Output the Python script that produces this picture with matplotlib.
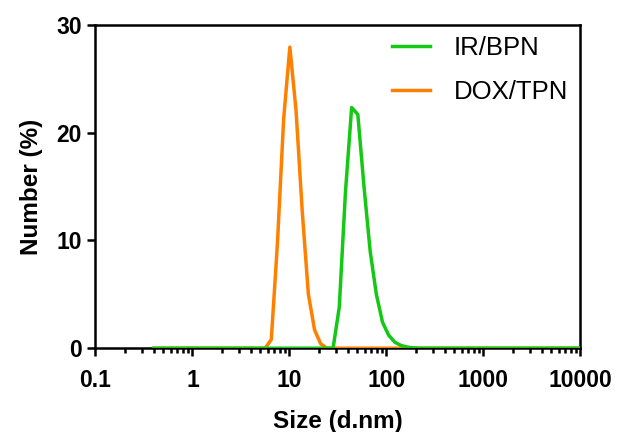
import matplotlib
matplotlib.use('Agg')
import matplotlib.pyplot as plt
from matplotlib.ticker import LogLocator, FixedLocator, NullFormatter

plt.rcParams['font.family'] = ['Liberation Sans', 'DejaVu Sans']

# Zetasizer size classes (d.nm)
size = [0.4, 0.4632, 0.5365, 0.6213, 0.7195, 0.8332, 0.9649, 1.117, 1.294,
        1.499, 1.736, 2.010, 2.328, 2.696, 3.122, 3.615, 4.187, 4.849, 5.615,
        6.503, 7.531, 8.721, 10.10, 11.70, 13.54, 15.69, 18.17, 21.04, 24.36,
        28.21, 32.67, 37.84, 43.82, 50.75, 58.77, 68.06, 78.82, 91.28, 105.7,
        122.4, 141.8, 164.2, 190.1, 220.2, 255.0, 295.3, 342.0, 396.1, 458.7,
        531.2, 615.1, 712.4, 825.0, 955.4, 1106, 1281, 1484, 1718, 1990, 2305,
        2669, 3091, 3580, 4145, 4801, 5560, 6439, 7456, 8635, 10000]

# number distribution (%), nonzero part only; rest of the classes are 0
ir_bpn_sizes = [28.21, 32.67, 37.84, 43.82, 50.75, 58.77, 68.06, 78.82,
                91.28, 105.7, 122.4, 141.8, 164.2, 190.1, 220.2]
ir_bpn_vals = [0.0, 3.8, 14.5, 22.35, 21.7, 15.0, 9.0, 5.0,
               2.4, 1.2, 0.55, 0.25, 0.1, 0.03, 0.0]
dox_tpn_sizes = [5.615, 6.503, 7.531, 8.721, 10.10, 11.70, 13.54, 15.69,
                 18.17, 21.04, 24.36]
dox_tpn_vals = [0.0, 0.8, 9.8, 21.3, 27.95, 22.1, 12.8, 5.0,
                1.7, 0.4, 0.0]

ir_bpn = [dict(zip(ir_bpn_sizes, ir_bpn_vals)).get(s, 0.0) for s in size]
dox_tpn = [dict(zip(dox_tpn_sizes, dox_tpn_vals)).get(s, 0.0) for s in size]

green = '#14c814'
orange = '#ff8000'

fig = plt.figure(figsize=(6.2, 4.32), dpi=100)
ax = fig.add_axes([0.154, 0.194, 0.782, 0.748])

ax.plot(size, dox_tpn, color=orange, lw=2.5, label='DOX/TPN', zorder=3)
ax.plot(size, ir_bpn, color=green, lw=2.5, label='IR/BPN', zorder=3)

ax.set_xscale('log')
ax.set_xlim(0.1, 10000)
ax.set_ylim(0, 30)
ax.set_yticks([0, 10, 20, 30])
ax.xaxis.set_major_locator(FixedLocator([0.1, 1, 10, 100, 1000, 10000]))
ax.set_xticklabels(['0.1', '1', '10', '100', '1000', '10000'])
ax.xaxis.set_minor_locator(LogLocator(base=10, subs=range(2, 10), numticks=20))
ax.xaxis.set_minor_formatter(NullFormatter())

for sp in ax.spines.values():
    sp.set_linewidth(1.8)
ax.tick_params(axis='both', which='major', direction='out', length=6,
               width=1.8, labelsize=16.5)
ax.tick_params(axis='x', which='major', pad=9)
ax.tick_params(axis='y', which='major', pad=4)
ax.tick_params(axis='x', which='minor', direction='out', length=3.5, width=1.8)
for lab in ax.get_xticklabels() + ax.get_yticklabels():
    lab.set_fontweight('bold')

ax.set_xlabel('Size (d.nm)', fontsize=17.5, fontweight='bold', labelpad=13)
ax.set_ylabel('Number (%)', fontsize=17.5, fontweight='bold', labelpad=9)

h, l = ax.get_legend_handles_labels()
ax.legend(h[::-1], l[::-1], loc='upper left', frameon=False, fontsize=18.5,
          handlelength=1.5, handletextpad=0.9, labelspacing=0.75,
          borderpad=0, borderaxespad=0, bbox_to_anchor=(0.611, 0.965))

fig.savefig('out.png', dpi=100)
